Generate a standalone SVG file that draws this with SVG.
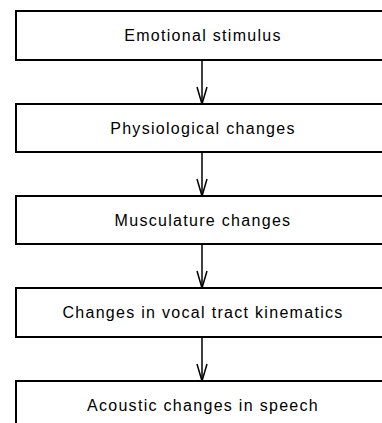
<svg xmlns="http://www.w3.org/2000/svg" width="382" height="423" viewBox="0 0 382 423">
<style>
.box{fill:#fff;stroke:#000;stroke-width:2}
.lbl{font-family:"Liberation Sans",Arial,sans-serif;font-size:16px;letter-spacing:1.3px;fill:#000;text-anchor:middle}
.conn{fill:none;stroke:#000;stroke-width:1.5}
</style>
<rect width="382" height="423" fill="#fff"/>
<g id="connectors">
<line class="conn" x1="202" y1="60" x2="202" y2="104"/><polyline class="conn" points="197,87 202,104 207,87"/>
<line class="conn" x1="202" y1="152" x2="202" y2="196"/><polyline class="conn" points="197,179 202,196 207,179"/>
<line class="conn" x1="202" y1="244" x2="202" y2="288"/><polyline class="conn" points="197,271 202,288 207,271"/>
<line class="conn" x1="202" y1="337" x2="202" y2="381"/><polyline class="conn" points="197,364 202,381 207,364"/>
</g>
<g id="n1"><rect class="box" x="16" y="11" width="380" height="49"/><text class="lbl" x="203" y="41">Emotional stimulus</text></g>
<g id="n2"><rect class="box" x="16" y="104" width="380" height="48"/><text class="lbl" x="203" y="134">Physiological changes</text></g>
<g id="n3"><rect class="box" x="16" y="196" width="380" height="48"/><text class="lbl" x="203" y="226">Musculature changes</text></g>
<g id="n4"><rect class="box" x="16" y="288" width="380" height="49"/><text class="lbl" x="203" y="318">Changes in vocal tract kinematics</text></g>
<g id="n5"><rect class="box" x="16" y="381" width="380" height="60"/><text class="lbl" x="203" y="411">Acoustic changes in speech</text></g>
</svg>
